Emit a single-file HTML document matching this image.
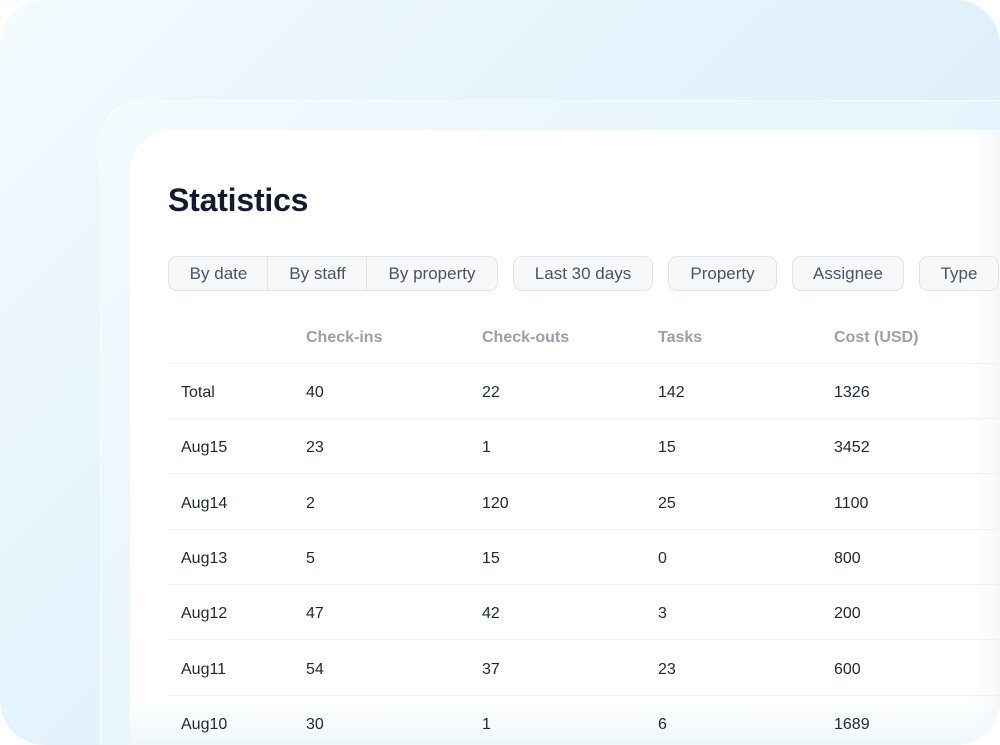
<!DOCTYPE html>
<html><head><meta charset="utf-8"><style>
*{margin:0;padding:0;box-sizing:border-box}
html,body{width:1000px;height:745px;background:#fff;overflow:hidden;font-family:"Liberation Sans",sans-serif}
.outer{position:absolute;left:0;top:0;width:1000px;height:745px;border-radius:45px;overflow:hidden;
background:linear-gradient(135deg,#f3fbfe 0%,#e6f4fc 35%,#ddeffa 70%,#d8edf9 100%)}
.mid{position:absolute;left:100px;top:100px;width:900px;height:645px;border-radius:40px 0 0 0;
background:linear-gradient(135deg,#f2fafe 0%,#e8f5fd 50%,#e2f2fc 100%);box-shadow:inset 1px 1px 0 rgba(255,255,255,.6)}
.inner{position:absolute;left:130px;top:130px;width:870px;height:615px;border-radius:40px 0 0 0;background:#fff}
.title{position:absolute;left:168px;top:180px;font-size:32px;font-weight:bold;color:#111a2e;letter-spacing:-0.2px;line-height:40px}
.btn{position:absolute;top:256px;height:35px;border:1px solid #e2e4e8;background:#f7f8f9;border-radius:9px;
font-size:17px;color:#4a5263;line-height:33px;text-align:center}
.seg{position:absolute;top:256px;left:168px;width:330px;height:35px;border:1px solid #e2e4e8;background:#f7f8f9;border-radius:9px}
.seg div{position:absolute;top:0;height:33px;font-size:17px;color:#4a5263;line-height:33px;text-align:center}
.seg .d{position:absolute;top:0;width:1px;height:33px;background:#e2e4e8}
.hd{position:absolute;top:328px;font-size:16px;font-weight:bold;color:#9aa0aa;line-height:20px}
.sep{position:absolute;left:168px;width:832px;height:1px;background:#eff1f3}
.c{position:absolute;font-size:16px;color:#1e2535;line-height:20px}
.fadeR{position:absolute;left:972px;top:130px;width:28px;height:615px;background:linear-gradient(to right,rgba(244,247,249,0),rgba(244,247,249,.9))}
.fadeB{position:absolute;left:130px;top:700px;width:870px;height:45px;background:linear-gradient(to bottom,rgba(240,247,250,0),rgba(238,246,250,.9))}
</style></head><body>
<div class="outer">
<div class="mid"></div>
<div class="inner"></div>
<div class="fadeR"></div>
<div class="fadeB"></div>
<div class="title">Statistics</div>
<div class="seg">
<div style="left:0;width:99px">By date</div>
<div class="d" style="left:98px"></div>
<div style="left:99px;width:99px">By staff</div>
<div class="d" style="left:197px"></div>
<div style="left:198px;width:130px">By property</div>
</div>
<div class="btn" style="left:513px;width:140px">Last 30 days</div>
<div class="btn" style="left:668px;width:109px">Property</div>
<div class="btn" style="left:792px;width:112px">Assignee</div>
<div class="btn" style="left:919px;width:80px">Type</div>

<div class="hd" style="left:306px">Check-ins</div>
<div class="hd" style="left:482px">Check-outs</div>
<div class="hd" style="left:658px">Tasks</div>
<div class="hd" style="left:834px">Cost (USD)</div>

<div class="sep" style="top:363px"></div>
<div class="sep" style="top:418px"></div>
<div class="sep" style="top:473px"></div>
<div class="sep" style="top:529px"></div>
<div class="sep" style="top:584px"></div>
<div class="sep" style="top:639px"></div>
<div class="sep" style="top:695px"></div>

<div class="c" style="left:181px;top:383px">Total</div>
<div class="c" style="left:306px;top:383px">40</div>
<div class="c" style="left:482px;top:383px">22</div>
<div class="c" style="left:658px;top:383px">142</div>
<div class="c" style="left:834px;top:383px">1326</div>

<div class="c" style="left:181px;top:438px">Aug15</div>
<div class="c" style="left:306px;top:438px">23</div>
<div class="c" style="left:482px;top:438px">1</div>
<div class="c" style="left:658px;top:438px">15</div>
<div class="c" style="left:834px;top:438px">3452</div>

<div class="c" style="left:181px;top:494px">Aug14</div>
<div class="c" style="left:306px;top:494px">2</div>
<div class="c" style="left:482px;top:494px">120</div>
<div class="c" style="left:658px;top:494px">25</div>
<div class="c" style="left:834px;top:494px">1100</div>

<div class="c" style="left:181px;top:549px">Aug13</div>
<div class="c" style="left:306px;top:549px">5</div>
<div class="c" style="left:482px;top:549px">15</div>
<div class="c" style="left:658px;top:549px">0</div>
<div class="c" style="left:834px;top:549px">800</div>

<div class="c" style="left:181px;top:604px">Aug12</div>
<div class="c" style="left:306px;top:604px">47</div>
<div class="c" style="left:482px;top:604px">42</div>
<div class="c" style="left:658px;top:604px">3</div>
<div class="c" style="left:834px;top:604px">200</div>

<div class="c" style="left:181px;top:660px">Aug11</div>
<div class="c" style="left:306px;top:660px">54</div>
<div class="c" style="left:482px;top:660px">37</div>
<div class="c" style="left:658px;top:660px">23</div>
<div class="c" style="left:834px;top:660px">600</div>

<div class="c" style="left:181px;top:715px">Aug10</div>
<div class="c" style="left:306px;top:715px">30</div>
<div class="c" style="left:482px;top:715px">1</div>
<div class="c" style="left:658px;top:715px">6</div>
<div class="c" style="left:834px;top:715px">1689</div>
</div>
</body></html>
